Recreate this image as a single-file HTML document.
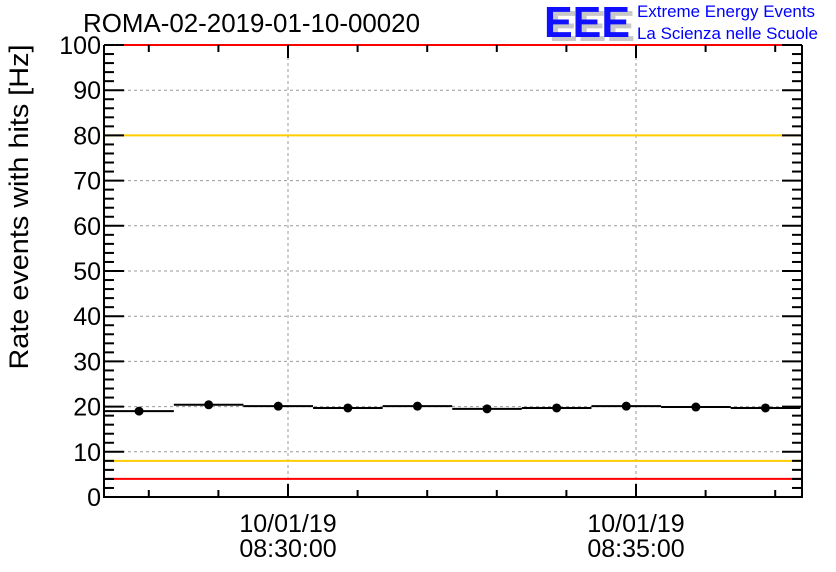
<!DOCTYPE html>
<html><head><meta charset="utf-8"><style>
html,body{margin:0;padding:0;background:#fff;}
svg{display:block;font-family:"Liberation Sans",sans-serif;}
</style></head><body>
<svg id="chart" width="836" height="572" viewBox="0 0 836 572">
<text x="83" y="32" font-size="26" fill="#000" textLength="337" lengthAdjust="spacingAndGlyphs">ROMA-02-2019-01-10-00020</text>
<g>
<text x="549" y="41" font-size="44" font-weight="bold" fill="#c8c8c8" textLength="86" lengthAdjust="spacingAndGlyphs">EEE</text>
<text x="544" y="37" font-size="44" font-weight="bold" fill="#1010ff" textLength="86" lengthAdjust="spacingAndGlyphs">EEE</text>
<text x="637" y="17" font-size="17" fill="#0000ff" textLength="178" lengthAdjust="spacingAndGlyphs">Extreme Energy Events</text>
<text x="637" y="39" font-size="17" fill="#0000ff" textLength="181" lengthAdjust="spacingAndGlyphs">La Scienza nelle Scuole</text>
</g>
<text transform="translate(28,207) rotate(-90)" text-anchor="middle" font-size="27" fill="#000" textLength="325" lengthAdjust="spacingAndGlyphs">Rate events with hits [Hz]</text>
<g id="grid"></g>
<g id="lines"></g>
<g id="axes"></g>
<g id="marks"></g>
</svg>
<script>
const values = [19.0, 20.4, 20.1, 19.7, 20.1, 19.5, 19.7, 20.1, 19.9, 19.7];
const binStartMinutes = -2.64; // minutes relative to 08:30:00
const yTickLabels = ["0","10","20","30","40","50","60","70","80","90","100"];
const xMajorLabels = [["10/01/19","08:30:00"],["10/01/19","08:35:00"]];
const xMajorMinutes = [0, 5];
const redLimits = [4, 100];
const yellowLimits = [8, 80];

const NS="http://www.w3.org/2000/svg";
const L=104, R=802, T=45, B=497;
const yMax=100;
const pxPerMin=69.6, x0=288;
const X=m=>x0+m*pxPerMin;
const Y=v=>B-(v/yMax)*(B-T);
function mk(tag,attrs,parent){const e=document.createElementNS(NS,tag);for(const k in attrs)e.setAttribute(k,attrs[k]);parent.appendChild(e);return e;}
const grid=document.getElementById('grid'),lines=document.getElementById('lines'),axes=document.getElementById('axes'),marks=document.getElementById('marks');

for(let i=1;i<yTickLabels.length;i++){const v=+yTickLabels[i];
 const g=mk('line',{x1:L,x2:R,y1:Y(v),y2:Y(v),stroke:'#999','stroke-dasharray':'3,3','stroke-width':1},grid);
 
 }
xMajorMinutes.forEach(m=>{const g=mk('line',{x1:X(m),x2:X(m),y1:T,y2:B,stroke:'#999','stroke-dasharray':'3,3','stroke-width':1},grid);
 
 });

redLimits.forEach(v=>{const l=mk('line',{x1:L,x2:R,y1:Y(v),y2:Y(v),stroke:'#ff0000','stroke-width':2},lines);
 
 });
yellowLimits.forEach(v=>{const l=mk('line',{x1:L,x2:R,y1:Y(v),y2:Y(v),stroke:'#ffcc00','stroke-width':2},lines);
 
 });

const fr=mk('path',{d:`M${L},${T} V${B} H${R} V${T}`,fill:'none',stroke:'#000','stroke-width':2},axes);


for(let v=0;v<=yMax;v+=2){const len=(v%10===0)?20:10;
 mk('line',{x1:L,x2:L+len,y1:Y(v),y2:Y(v),stroke:'#000','stroke-width':2},axes);
 mk('line',{x1:R,x2:R-len,y1:Y(v),y2:Y(v),stroke:'#000','stroke-width':2},axes);}
yTickLabels.forEach(s=>{const t=mk('text',{x:L-3,y:Y(+s)+9,'text-anchor':'end','font-size':25,fill:'#000'},axes);t.textContent=s;
 
 });
for(let m=-2;m<=7;m++){const x=X(m);if(x<L||x>R)continue;const len=(m%5===0)?13:7;
 mk('line',{x1:x,x2:x,y1:B,y2:B-len,stroke:'#000','stroke-width':2},axes);
 mk('line',{x1:x,x2:x,y1:T,y2:T+len,stroke:'#000','stroke-width':2},axes);}
xMajorMinutes.forEach((m,i)=>{xMajorLabels[i].forEach((s,j)=>{const t=mk('text',{x:X(m),y:532+j*25,'text-anchor':'middle','font-size':25,fill:'#000'},axes);t.textContent=s;
 
 });});

values.forEach((v,i)=>{const a=X(binStartMinutes+i),b=X(binStartMinutes+i+1),y=Y(v);
 const h=mk('line',{x1:a,x2:Math.min(b,R),y1:y,y2:y,stroke:'#000','stroke-width':2},marks);
 
 
 const c=mk('circle',{cx:(a+b)/2,cy:y,r:4.5,fill:'#000'},marks);
 
 });
</script>
</body></html>
